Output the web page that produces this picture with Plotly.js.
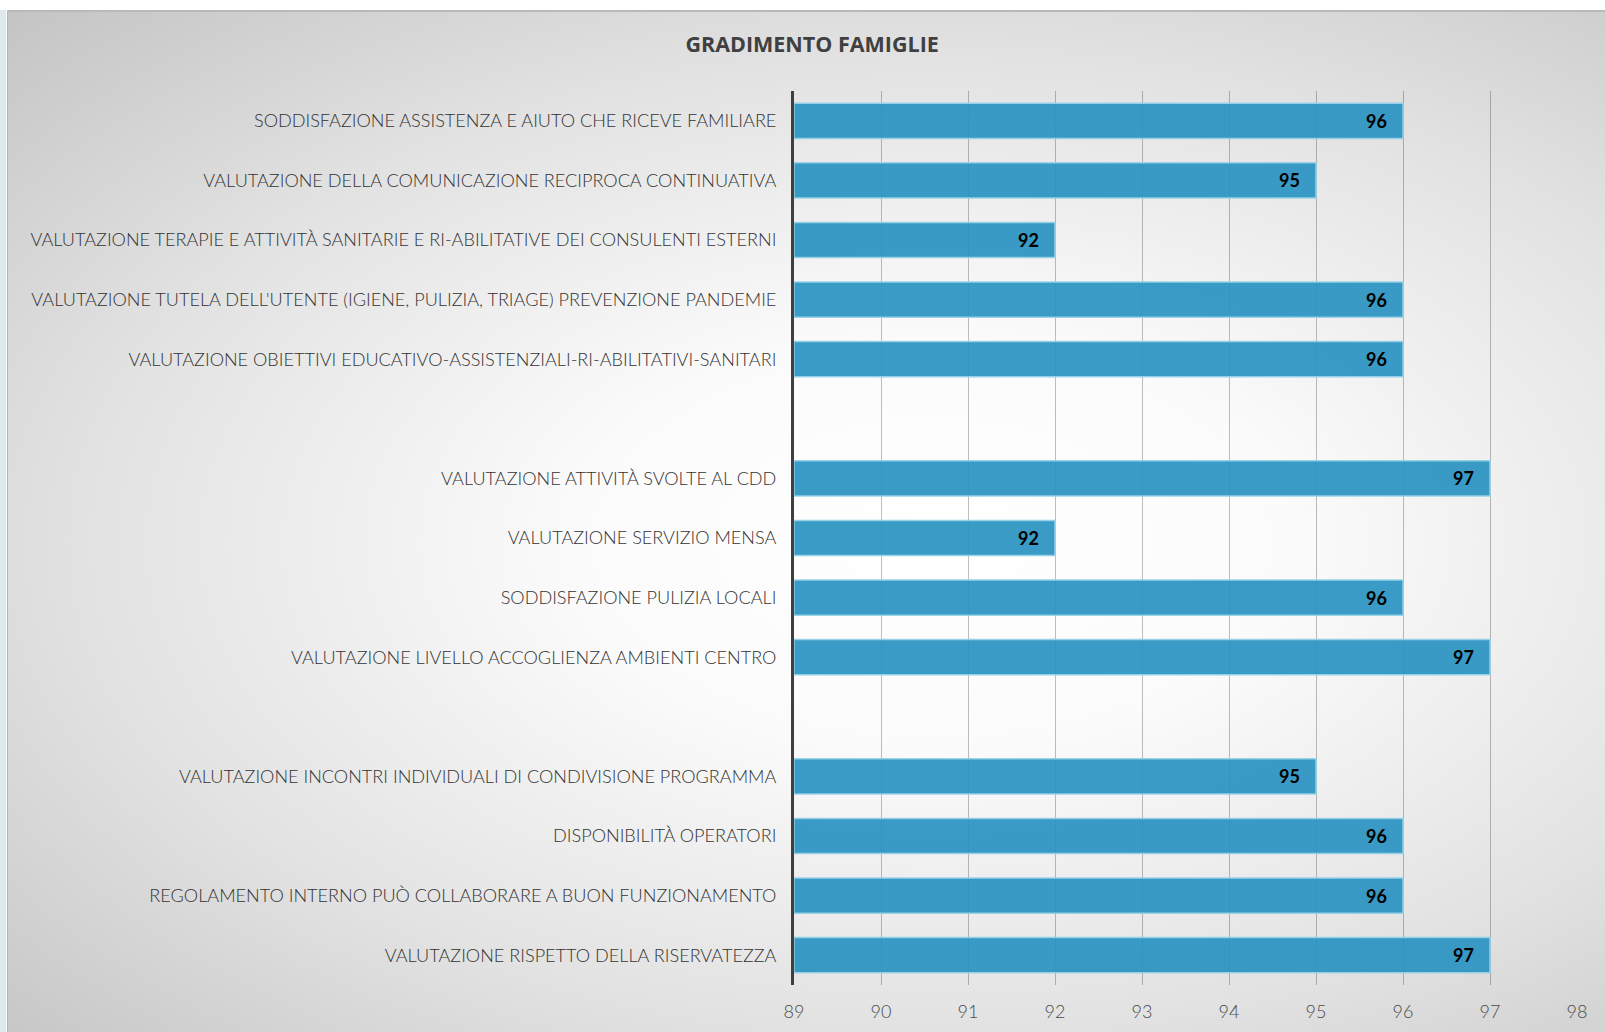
<!DOCTYPE html>
<html>
<head>
<meta charset="utf-8">
<script src="https://cdn.plot.ly/plotly-3.0.1.min.js"></script>
<style>
  html, body { margin: 0; padding: 0; background: #ffffff; }
  #wrap { position: absolute; left: 0; top: 0; width: 1605px; height: 1032px; background: #ffffff; overflow: hidden; }
  #bg { position: absolute; left: 7px; top: 10px; width: 1598px; height: 1022px;
        background: radial-gradient(ellipse farthest-corner at 58% 52%, #ffffff 0%, #fbfbfb 27%, #e2e2e2 65%, #c4c4c4 100%);
        border-top: 2px solid #b9b9b9; border-left: 1px solid #b5b5b5; box-sizing: border-box; }
  #strip { position: absolute; left: 0; top: 10px; width: 6px; height: 1022px; background: #dde9ef; }
  #chart { position: absolute; left: 0; top: 0; width: 1605px; height: 1032px; }
</style>
</head>
<body>
<div id="wrap">
  <div id="strip"></div>
  <div id="bg"></div>
  <div id="chart"></div>
</div>
<script>
const categories = [
  "SODDISFAZIONE ASSISTENZA E AIUTO CHE RICEVE FAMILIARE",
  "VALUTAZIONE DELLA COMUNICAZIONE RECIPROCA CONTINUATIVA",
  "VALUTAZIONE TERAPIE E ATTIVITÀ SANITARIE E RI-ABILITATIVE DEI CONSULENTI ESTERNI",
  "VALUTAZIONE TUTELA DELL'UTENTE (IGIENE, PULIZIA, TRIAGE) PREVENZIONE PANDEMIE",
  "VALUTAZIONE OBIETTIVI EDUCATIVO-ASSISTENZIALI-RI-ABILITATIVI-SANITARI",
  " ",
  "VALUTAZIONE ATTIVITÀ SVOLTE AL CDD",
  "VALUTAZIONE SERVIZIO MENSA",
  "SODDISFAZIONE PULIZIA LOCALI",
  "VALUTAZIONE LIVELLO ACCOGLIENZA AMBIENTI CENTRO",
  "  ",
  "VALUTAZIONE INCONTRI INDIVIDUALI DI CONDIVISIONE PROGRAMMA",
  "DISPONIBILITÀ OPERATORI",
  "REGOLAMENTO INTERNO PUÒ COLLABORARE A BUON FUNZIONAMENTO",
  "VALUTAZIONE RISPETTO DELLA RISERVATEZZA"
];
const values = [96, 95, 92, 96, 96, null, 97, 92, 96, 97, null, 95, 96, 96, 97];
const xTicks = [89, 90, 91, 92, 93, 94, 95, 96, 97, 98];
const axisStart = 89;
const chartTitle = "GRADIMENTO FAMIGLIE";

const trace = {
  type: 'bar',
  orientation: 'h',
  y: categories,
  x: values.map(v => v === null ? null : v - axisStart),
  base: axisStart,
  width: 0.59,
  marker: { color: 'rgba(41,147,193,0.92)', line: { color: 'rgba(150,210,232,0.95)', width: 1.5 } },
  text: values.map(v => v === null ? '' : String(v)),
  texttemplate: '%{text}\u00a0\u00a0\u00a0',
  textposition: 'inside',
  insidetextanchor: 'end',
  textangle: 0,
  textfont: { family: 'Lato, "Open Sans", sans-serif', size: 18, color: '#000000', weight: 'bold' },
  constraintext: 'none',
  hoverinfo: 'none',
  cliponaxis: false
};

const layout = {
  width: 1605,
  height: 1032,
  paper_bgcolor: 'rgba(0,0,0,0)',
  plot_bgcolor: 'rgba(0,0,0,0)',
  margin: { l: 794, r: 28, t: 91, b: 47 },
  title: {
    text: '<b>' + chartTitle + '</b>',
    x: 0.506, xanchor: 'center', y: 0.957, yanchor: 'middle',
    font: { family: '"Open Sans", sans-serif', size: 21.5, color: '#404040' }
  },
  showlegend: false,
  bargap: 0.41,
  xaxis: {
    range: [89, 98],
    tickvals: xTicks,
    ticktext: xTicks.map(String),
    showgrid: true,
    gridcolor: 'rgba(0,0,0,0.25)',
    gridwidth: 1,
    zeroline: false,
    showline: false,
    ticks: '',
    ticklabelstandoff: 14,
    tickfont: { family: 'Lato, "Open Sans", sans-serif', size: 18, color: '#4a4a4a', weight: 300 },
    fixedrange: true
  },
  yaxis: {
    type: 'category',
    categoryorder: 'array',
    categoryarray: categories,
    autorange: 'reversed',
    showgrid: false,
    zeroline: false,
    showline: true,
    linecolor: '#3f3f3f',
    linewidth: 3,
    ticks: '',
    ticklabelstandoff: 11,
    tickfont: { family: 'Lato, "Open Sans", sans-serif', size: 18.1, color: '#333333', weight: 300 },
    fixedrange: true
  }
};

Plotly.newPlot('chart', [trace], layout, { displayModeBar: false, staticPlot: true });
</script>
</body>
</html>
